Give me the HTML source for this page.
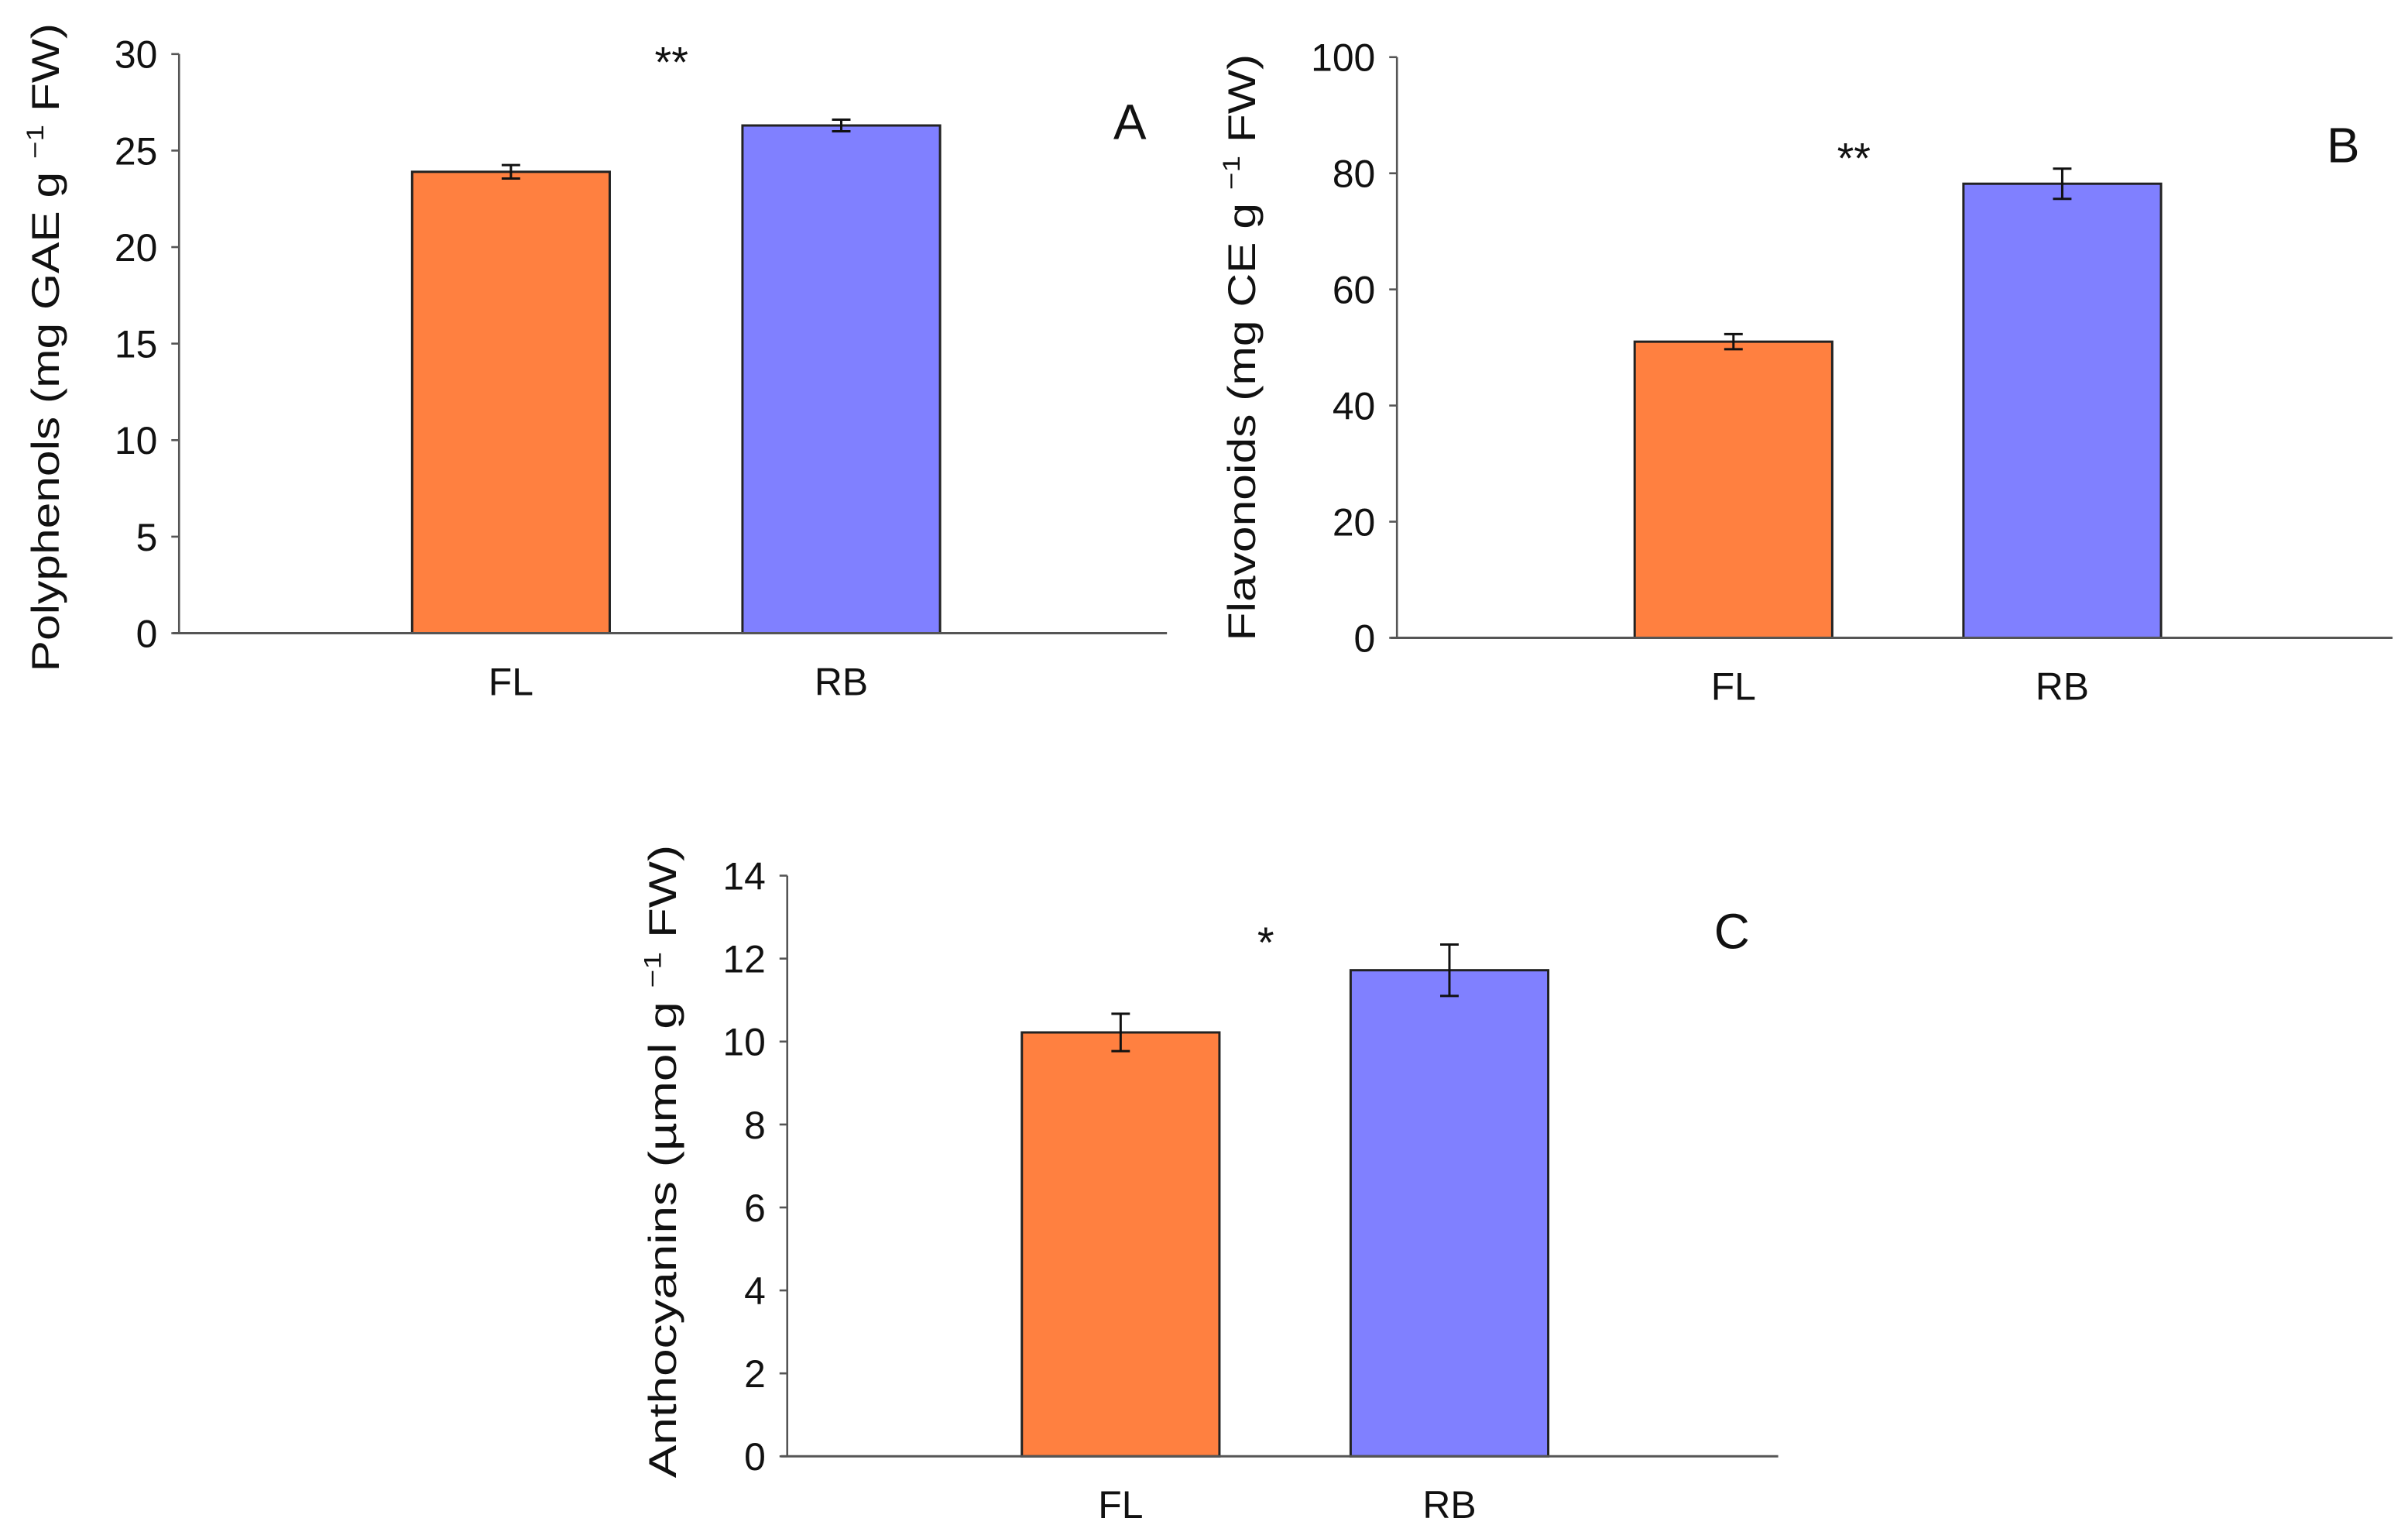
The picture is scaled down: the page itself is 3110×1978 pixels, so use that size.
<!DOCTYPE html>
<html><head><meta charset="utf-8"><style>
html,body{margin:0;padding:0;background:#fff;}
svg{display:block;font-family:"Liberation Sans",Arial,sans-serif;}
</style></head><body>
<svg id="fig" width="3110" height="1978" viewBox="0 0 1560 992" preserveAspectRatio="none" xmlns="http://www.w3.org/2000/svg"></svg>
<script>
const categories = ["FL","RB"];
const polyValues = [23.9, 26.3];
const polyErrors = [0.35, 0.3];
const polyTicks = [0,5,10,15,20,25,30];
const flavValues = [51, 78.2];
const flavErrors = [1.3, 2.6];
const flavTicks = [0,20,40,60,80,100];
const anthoValues = [10.22, 11.72];
const anthoErrors = [0.45, 0.62];
const anthoTicks = [0,2,4,6,8,10,12,14];
const colors = ["#FF8040","#8080FF"];

const NS = "http://www.w3.org/2000/svg";
const svg = document.getElementById('fig');
function el(tag, attrs, parent){
  const e = document.createElementNS(NS, tag);
  for (const k in attrs) e.setAttribute(k, attrs[k]);
  (parent||svg).appendChild(e);
  return e;
}
function panel(cfg){
  const g = el('g', {});
  
  
  const max = cfg.ticks[cfg.ticks.length-1];
  const y = v => cfg.y0 - (v/max)*(cfg.y0-cfg.yTop);
  const ya = el('line', {x1:cfg.ax, y1:cfg.yTop, x2:cfg.ax, y2:cfg.y0, stroke:'#555', 'stroke-width':1.3}, g);
  
  
  cfg.ticks.forEach(t => {
    el('line', {x1:cfg.ax-5, y1:y(t), x2:cfg.ax, y2:y(t), stroke:'#555', 'stroke-width':1.3}, g);
    const tl = el('text', {x:cfg.ax-14, y:y(t)+9, 'text-anchor':'end', 'font-size':25, fill:'#111'}, g);
    tl.textContent = t;
    
    
  });
  categories.forEach((c,i) => {
    const bx = cfg.bars[i];
    const v = cfg.values[i], e = cfg.errors[i];
    const r = el('rect', {x:bx, y:y(v), width:128, height:cfg.y0-y(v), fill:colors[i], stroke:'#222', 'stroke-width':1.5}, g);
    
    
    const cx = bx+64;
    const eb = el('path', {d:`M${cx} ${y(v+e)}V${y(v-e)}M${cx-6} ${y(v+e)}H${cx+6}M${cx-6} ${y(v-e)}H${cx+6}`, stroke:'#111', 'stroke-width':1.5, fill:'none'}, g);
    
    
    const cl = el('text', {x:cx, y:cfg.y0+40, 'text-anchor':'middle', 'font-size':25, fill:'#111'}, g);
    cl.textContent = c;
    
    
  });
  const xa = el('line', {x1:cfg.ax-4, y1:cfg.y0, x2:cfg.xEnd, y2:cfg.y0, stroke:'#555', 'stroke-width':1.5}, g);
  
  
  const tt = el('text', {x:0, y:0, transform:`translate(${cfg.tx},${cfg.tc}) rotate(-90)`, 'text-anchor':'middle', 'font-size':25, fill:'#111', textLength:cfg.tlen, lengthAdjust:'spacingAndGlyphs'}, g);
  
  
  const a = document.createElementNS(NS,'tspan'); a.textContent = cfg.title[0]; tt.appendChild(a);
  const s = document.createElementNS(NS,'tspan'); s.textContent = '\u2212' + '1'; s.setAttribute('font-size','16'); s.setAttribute('dy','-10'); tt.appendChild(s);
  const b = document.createElementNS(NS,'tspan'); b.textContent = ' FW)'; b.setAttribute('dy','10'); tt.appendChild(b);
  const sg = el('text', {x:cfg.sig[0], y:cfg.sig[1], 'text-anchor':'middle', 'font-size':28, fill:'#111'}, g);
  sg.textContent = cfg.sigText;
  
  
  const lt = el('text', {x:cfg.lp[0], y:cfg.lp[1], 'text-anchor':'middle', 'font-size':32, fill:'#111'}, g);
  lt.textContent = cfg.letter;
  
  
}
panel({letter:'A', ax:116, yTop:35, y0:410, xEnd:756, bars:[267,481], values:polyValues, errors:polyErrors, ticks:polyTicks,
  title:['Polyphenols (mg GAE g '], tx:38, tc:225, tlen:420, sig:[435,50], sigText:'**', lp:[732,90]});
panel({letter:'B', ax:905, yTop:37, y0:413, xEnd:1550, bars:[1059,1272], values:flavValues, errors:flavErrors, ticks:flavTicks,
  title:['Flavonoids (mg CE g '], tx:813, tc:225, tlen:380, sig:[1201,112], sigText:'**', lp:[1518,105]});
panel({letter:'C', ax:510, yTop:567, y0:943, xEnd:1152, bars:[662,875], values:anthoValues, errors:anthoErrors, ticks:anthoTicks,
  title:['Anthocyanins  (\u00b5mol g '], tx:438, tc:752, tlen:410, sig:[820,620], sigText:'*', lp:[1122,614]});
</script>
</body></html>
